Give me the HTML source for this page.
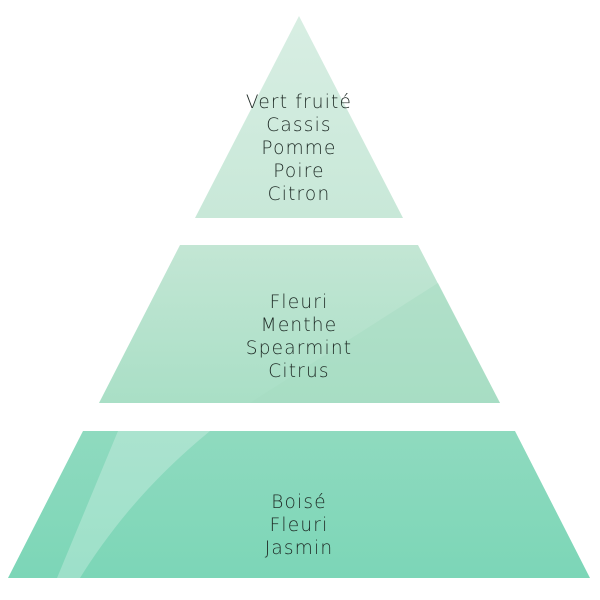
<!DOCTYPE html>
<html><head><meta charset="utf-8"><style>
html,body{margin:0;padding:0;background:#fff;width:600px;height:600px;overflow:hidden}
text{font-family:"DejaVu Sans","Liberation Sans",sans-serif;font-weight:200;font-size:18.5px;fill:#1f2b26;letter-spacing:1.2px}
</style></head><body>
<svg width="600" height="600" viewBox="0 0 600 600" xmlns="http://www.w3.org/2000/svg">
<defs>
<linearGradient id="g1" x1="0" y1="0" x2="0" y2="1"><stop offset="0" stop-color="#d8eee3"/><stop offset="1" stop-color="#c8e8d8"/></linearGradient>
<linearGradient id="g2" x1="0" y1="0" x2="0" y2="1"><stop offset="0" stop-color="#c3e6d4"/><stop offset="1" stop-color="#a9dfc6"/></linearGradient>
<linearGradient id="g3" x1="0" y1="0" x2="0" y2="1"><stop offset="0" stop-color="#8fdabf"/><stop offset="1" stop-color="#7cd6b7"/></linearGradient>
</defs>
<polygon points="299,16 403,218 195,218" fill="url(#g1)"/>
<polygon points="180,245 418,245 500,403 99,403" fill="url(#g2)"/>
<polygon points="250,403 500,403 438,283" fill="#a6dcc2" opacity="0.5"/>
<polygon points="83,431 515,431 590,578 8,578" fill="url(#g3)"/>
<path d="M118,431 L210,431 C150,480 110,530 80,578 L57,578 Z" fill="#ffffff" opacity="0.25"/>
<g text-anchor="middle">
<text x="299" y="108">Vert fruité</text>
<text x="299" y="131">Cassis</text>
<text x="299" y="154">Pomme</text>
<text x="299" y="177">Poire</text>
<text x="299" y="200">Citron</text>
<text x="299" y="308">Fleuri</text>
<text x="299" y="331">Menthe</text>
<text x="299" y="354">Spearmint</text>
<text x="299" y="377">Citrus</text>
<text x="299" y="508">Boisé</text>
<text x="299" y="531">Fleuri</text>
<text x="299" y="554">Jasmin</text>
</g>
</svg>
</body></html>
